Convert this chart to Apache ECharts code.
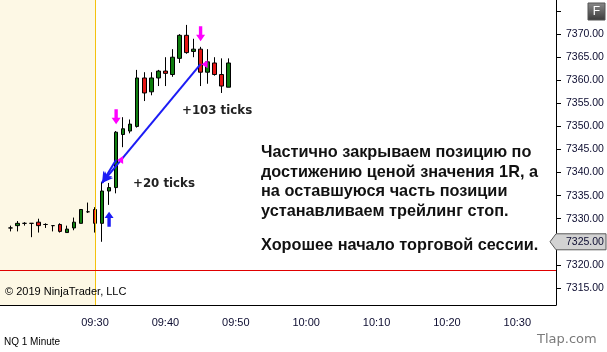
<!DOCTYPE html>
<html lang="ru">
<head>
<meta charset="UTF-8">
<title>NQ 1 Minute</title>
<script src="https://cdn.jsdelivr.net/npm/echarts@6/dist/echarts.min.js"></script>
<style>
    html, body { margin: 0; padding: 0; background: #fff; }
    #main { width: 607px; height: 352px; }
</style>
</head>
<body>
<div id="main"></div>
<script>
    // свечи NQ, 1 минута
    var times  = ['09:18','09:19','09:20','09:21','09:22','09:23','09:24','09:25','09:26','09:27','09:28','09:29',
                  '09:30','09:31','09:32','09:33','09:34','09:35','09:36','09:37','09:38','09:39','09:40','09:41',
                  '09:42','09:43','09:44','09:45','09:46','09:47','09:48','09:49'];
    var opens  = [7328.0, 7328.5, 7329.0, 7329.0, 7329.25, 7328.75, 7328.5, 7328.75, 7327.0, 7328.0, 7329.0, 7331.5,
                  7332.0, 7329.0, 7336.0, 7336.75, 7348.25, 7349.0, 7350.0, 7360.5, 7357.5, 7360.5, 7362.0, 7361.25,
                  7364.75, 7369.75, 7366.25, 7366.75, 7361.75, 7363.75, 7361.25, 7358.5];
    var closes = [7328.0, 7329.0, 7329.0, 7329.0, 7328.5, 7328.75, 7328.5, 7327.25, 7327.75, 7329.25, 7332.0, 7331.5,
                  7329.0, 7336.0, 7336.75, 7348.75, 7349.5, 7350.5, 7360.5, 7357.25, 7360.5, 7362.0, 7361.5, 7365.0,
                  7369.75, 7366.0, 7366.75, 7361.75, 7364.0, 7361.25, 7358.75, 7363.75];
    var lows   = [7327.25, 7327.25, 7328.5, 7326.0, 7327.0, 7328.0, 7327.25, 7327.0, 7327.0, 7327.5, 7329.0, 7331.25,
                  7327.0, 7325.0, 7333.0, 7335.5, 7345.5, 7348.5, 7349.75, 7355.5, 7356.75, 7358.75, 7358.75, 7360.75,
                  7363.75, 7365.75, 7365.0, 7358.75, 7359.25, 7361.0, 7357.25, 7358.5];
    var highs  = [7328.5, 7329.5, 7329.25, 7329.0, 7330.0, 7329.0, 7328.5, 7329.0, 7328.5, 7330.25, 7332.0, 7333.5,
                  7332.5, 7338.0, 7337.75, 7349.0, 7352.0, 7351.5, 7362.25, 7361.75, 7361.75, 7362.25, 7365.0, 7366.75,
                  7370.0, 7372.0, 7369.0, 7367.25, 7366.75, 7365.0, 7364.75, 7364.75];

    // сделка: вход и два выхода
    var entryTime = '09:31';
    var entryPrice = 7337.75;
    var exitTimes = ['09:33', '09:45'];
    var exitPrices = [7342.75, 7363.5];
    var exitLabels = ['+20 ticks', '+103 ticks'];
    var buyArrowTime = '09:32';
    var buyArrowPrice = 7329.9;
    var sellArrowPrices = [7352.1, 7370.1];
    var stopPrice = 7318.75;
    var lastPrice = 7325.0;
    var sessionStart = '09:30';

    // оси
    var xTickLabels = ['09:30', '09:40', '09:50', '10:00', '10:10', '10:20', '10:30'];
    var yLabelValues = [7315, 7320, 7325, 7330, 7335, 7340, 7345, 7350, 7355, 7360, 7365, 7370];
    var yTickValues = yLabelValues.concat([7375]);
    var yMin = 7311.3, yMax = 7377.4;

    function pad(n) { return (n < 10 ? '0' : '') + n; }
    var categories = [];
    for (var m = 9 * 60 + 17; m <= 10 * 60 + 35; m++) {
        categories.push(pad(Math.floor(m / 60)) + ':' + pad(m % 60));
    }
    var candleData = categories.map(function (t) {
        var i = times.indexOf(t);
        return i < 0 ? ['-', '-', '-', '-'] : [opens[i], closes[i], lows[i], highs[i]];
    });

    var blue = '#1c1cf5';
    var pink = '#ff00ff';
    var upArrow = 'path://M4,0 L8,6 L5.5,6 L5.5,14 L2.5,14 L2.5,6 L0,6 Z';
    var downArrow = 'path://M2.5,0 L5.5,0 L5.5,8 L8,8 L4,14 L0,8 L2.5,8 Z';
    var leftTri = 'path://M0,4 L7,0 L7,8 Z';

    var myChart = echarts.init(document.getElementById('main'));

    myChart.setOption({
        animation: false,
        backgroundColor: '#ffffff',
        textStyle: { fontFamily: 'Liberation Sans, Arial, sans-serif' },
        grid: { left: 0, top: 0, right: 51, bottom: 47 },
        xAxis: {
            type: 'category',
            data: categories,
            boundaryGap: true,
            axisLine: { lineStyle: { color: '#000', width: 1 } },
            axisTick: {
                alignWithLabel: true,
                length: 5,
                lineStyle: { color: '#000' },
                interval: function (idx, val) { return xTickLabels.indexOf(val) >= 0; }
            },
            axisLabel: {
                interval: function (idx, val) { return xTickLabels.indexOf(val) >= 0; },
                margin: 12,
                fontSize: 11,
                color: '#0c0c30'
            },
            splitLine: { show: false }
        },
        yAxis: {
            type: 'value',
            position: 'right',
            min: yMin,
            max: yMax,
            scale: true,
            axisLine: { show: true, lineStyle: { color: '#000', width: 1 } },
            axisTick: { show: true, length: 5, lineStyle: { color: '#000' }, customValues: yTickValues },
            axisLabel: {
                customValues: yLabelValues,
                margin: 10,
                fontSize: 10.5,
                color: '#0c0c30',
                formatter: function (v) { return v.toFixed(2); }
            },
            splitLine: { show: false }
        },
        series: [{
            type: 'candlestick',
            data: candleData,
            barWidth: 4,
            itemStyle: {
                color: '#0e7d0e',
                color0: '#e41616',
                borderColor: '#000',
                borderColor0: '#000',
                borderColorDoji: '#000',
                borderWidth: 1
            },
            markLine: {
                silent: true,
                symbol: ['none', 'none'],
                label: { show: false },
                emphasis: { disabled: true },
                data: [
                    { xAxis: sessionStart, lineStyle: { color: '#f4c20d', width: 1, type: 'solid' } },
                    { yAxis: stopPrice, lineStyle: { color: '#e00000', width: 1, type: 'solid' } },
                    [
                        { coord: [exitTimes[1], exitPrices[1]], symbol: 'none', lineStyle: { color: blue, width: 2, type: 'solid' } },
                        { coord: [entryTime, entryPrice], symbol: 'arrow', symbolSize: [8, 11] }
                    ],
                    [
                        { coord: [exitTimes[0], exitPrices[0]], symbol: 'none', lineStyle: { color: blue, width: 2, type: 'solid' } },
                        { coord: [entryTime, entryPrice], symbol: 'arrow', symbolSize: [8, 11] }
                    ]
                ]
            },
            markPoint: {
                silent: true,
                label: { show: false },
                data: [
                    { coord: [buyArrowTime, buyArrowPrice], symbol: upArrow, symbolSize: [9, 15], itemStyle: { color: blue } },
                    { coord: [exitTimes[0], sellArrowPrices[0]], symbol: downArrow, symbolSize: [9, 15], itemStyle: { color: pink } },
                    { coord: [exitTimes[1], sellArrowPrices[1]], symbol: downArrow, symbolSize: [9, 15], itemStyle: { color: pink } },
                    { coord: [exitTimes[0], exitPrices[0]], symbol: leftTri, symbolSize: [6, 8], symbolOffset: [4, 0], itemStyle: { color: pink } },
                    { coord: [exitTimes[1], exitPrices[1]], symbol: leftTri, symbolSize: [6, 8], symbolOffset: [4, 0], itemStyle: { color: pink } }
                ]
            }
        }]
    });

    // подложка до открытия сессии, маркер последней цены и подписи
    var xSession = myChart.convertToPixel({ xAxisIndex: 0 }, categories.indexOf(sessionStart));
    var yBottom = myChart.convertToPixel({ yAxisIndex: 0 }, yMin);
    var yLast = myChart.convertToPixel({ yAxisIndex: 0 }, lastPrice);
    var yExit0 = myChart.convertToPixel({ yAxisIndex: 0 }, exitPrices[0]);
    var yExit1 = myChart.convertToPixel({ yAxisIndex: 0 }, exitPrices[1]);

    var boldText = { fill: '#111', font: 'bold 16.3px "Liberation Sans", Arial, sans-serif', textVerticalAlign: 'middle' };
    var noteLines = [
        'Частично закрываем позицию по',
        'достижению ценой значения 1R, а',
        'на оставшуюся часть позиции',
        'устанавливаем трейлинг стоп.'
    ];
    var noteY = [153, 172.5, 192, 211.5];
    var tickFont = 'bold 11.8px "DejaVu Sans", sans-serif';
    var graphics = [
        { type: 'rect', z: 0, silent: true, shape: { x: 0, y: 0, width: xSession, height: yBottom }, style: { fill: '#fdf8e5' } },
        { type: 'text', z: 10, x: 5, y: 292, style: { text: '© 2019 NinjaTrader, LLC', fill: '#000', font: '11px "Liberation Sans", Arial, sans-serif', textVerticalAlign: 'middle' } },
        { type: 'text', z: 10, x: 4, y: 342, style: { text: 'NQ 1 Minute', fill: '#000', font: '10px "Liberation Sans", Arial, sans-serif', textVerticalAlign: 'middle' } },
        { type: 'text', z: 10, x: 537, y: 340, style: { text: 'Tlap.com', fill: '#7a7a7a', font: '13px "DejaVu Sans", sans-serif', textVerticalAlign: 'middle' } },
        { type: 'text', z: 10, x: 133, y: yExit0 + 24, style: { text: exitLabels[0], fill: '#222', font: tickFont, textVerticalAlign: 'middle' } },
        { type: 'text', z: 10, x: 182, y: yExit1 + 47, style: { text: exitLabels[1], fill: '#222', font: tickFont, textVerticalAlign: 'middle' } },
        { type: 'text', z: 10, x: 261, y: 245.5, style: Object.assign({ text: 'Хорошее начало торговой сессии.' }, boldText) },
        // маркер последней цены
        { type: 'polygon', z: 20, shape: { points: [[550, yLast], [556, yLast - 8], [606, yLast - 8], [606, yLast + 8], [556, yLast + 8]] },
          style: { fill: '#d2d2d2', stroke: '#5a5a5a', lineWidth: 1 } },
        { type: 'text', z: 21, x: 566, y: yLast, style: { text: lastPrice.toFixed(2), fill: '#0c0c30', font: '10.5px "Liberation Sans", Arial, sans-serif', textVerticalAlign: 'middle' } },
        // кнопка F
        { type: 'rect', z: 20, shape: { x: 588, y: 3, width: 17, height: 17 },
          style: { fill: new echarts.graphic.LinearGradient(0, 0, 0, 1, [{ offset: 0, color: '#8a8a8a' }, { offset: 1, color: '#3a3a3a' }]), stroke: '#555' } },
        { type: 'text', z: 21, x: 596.5, y: 12, style: { text: 'F', fill: '#fff', font: '12px "Liberation Sans", Arial, sans-serif', textAlign: 'center', textVerticalAlign: 'middle' } }
    ];
    noteLines.forEach(function (line, i) {
        graphics.push({ type: 'text', z: 10, x: 261, y: noteY[i], style: Object.assign({ text: line }, boldText) });
    });
    myChart.setOption({ graphic: graphics });
</script>
</body>
</html>
